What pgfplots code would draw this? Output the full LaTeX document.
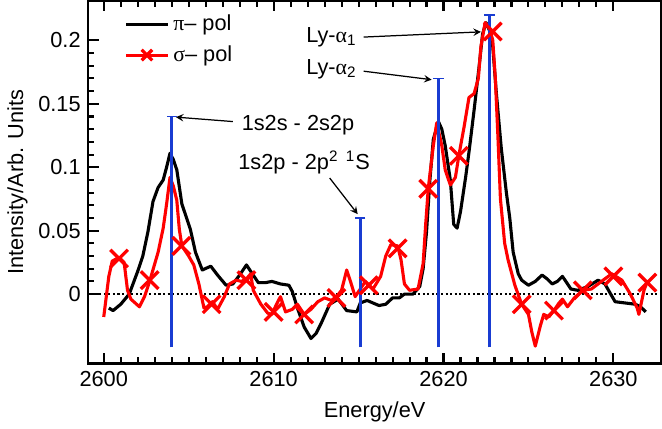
\documentclass[border=0pt]{standalone}
\usepackage{fontspec}
\setmainfont{Liberation Sans}
\newfontfamily\grk{Liberation Serif}
\usepackage{pgfplots}
\pgfplotsset{compat=1.18}
\definecolor{lblue}{RGB}{25,60,210}
\begin{document}
\fontsize{10.5}{12.6}\selectfont
\begin{tikzpicture}
\begin{axis}[
  scale only axis, width=276.5pt, height=175pt,
  xmin=2599.09, xmax=2632.8, ymin=-0.0547, ymax=0.231,
  axis on top, clip=false,
  xtick={2600,2610,2620,2630}, minor x tick num=9,
  ytick={0,0.05,0.1,0.15,0.2}, yticklabels={0,0.05,0.1,0.15,0.2}, minor y tick num=4,
  xtick pos=both, ytick pos=left, tick align=inside,
  major tick length=5pt, minor tick length=3pt,
  tick style={line width=1pt, black},
  axis line style={line width=1pt},
  /pgf/number format/assume math mode=true,
  /pgf/number format/set thousands separator={},
  tick label style={font=\fontsize{10.5}{12.6}\selectfont},
  label style={font=\fontsize{10.5}{12.6}\selectfont},
  xlabel={Energy/eV}, ylabel={Intensity/Arb. Units},
  ylabel style={yshift=-2pt},
  legend style={draw=none, fill=none, at={(axis description cs:0.052,0.985)}, anchor=north west, font=\fontsize{10.5}{12.6}\selectfont, row sep=1.5pt},
  legend cell align=left,
  legend image code/.code={\draw[mark repeat=2,mark phase=2,#1] plot coordinates {(0pt,0pt) (10pt,0pt) (20pt,0pt)};},
]
\addlegendimage{black, line width=1.5pt}
\addlegendentry{{\grk π}– pol}
\addlegendimage{red, line width=1.5pt, mark=x, mark size=3.6pt, mark options={line width=1.6pt}}
\addlegendentry{{\grk σ}– pol}

\addplot[forget plot, black, line width=1.1pt, dash pattern=on 1pt off 1.2pt] coordinates {(2599.2,0) (2632.7,0)};

\addplot[forget plot, black, line width=1.5pt, line join=round] coordinates {
(2600.3,-0.011) (2600.55,-0.013) (2601.0,-0.008) (2601.5,0.0) (2602.0,0.018) (2602.3,0.030)
(2602.6,0.049) (2602.9,0.073) (2603.2,0.084) (2603.5,0.090) (2603.7,0.100) (2603.9,0.111)
(2604.1,0.106) (2604.3,0.098) (2604.6,0.071) (2605.1,0.051) (2605.4,0.033) (2605.8,0.019)
(2606.3,0.022) (2606.7,0.015) (2607.2,0.007) (2607.6,0.008) (2608.0,0.015) (2608.4,0.023)
(2608.7,0.017) (2609.1,0.009) (2609.5,0.009) (2609.9,0.010) (2610.4,0.008) (2610.9,0.007)
(2611.1,0.002) (2611.4,-0.011) (2611.8,-0.026) (2612.2,-0.035) (2612.5,-0.031) (2612.8,-0.023)
(2613.3,-0.008) (2613.8,-0.004) (2614.3,-0.013) (2614.9,-0.014) (2615.1,-0.007) (2615.5,-0.005)
(2616.2,-0.009) (2616.6,-0.008) (2617.0,-0.003) (2617.4,-0.003) (2617.7,0.0) (2618.2,0.0)
(2618.6,0.006) (2618.8,0.020) (2619.0,0.049) (2619.2,0.090) (2619.4,0.122) (2619.7,0.136)
(2619.9,0.130) (2620.1,0.117) (2620.4,0.090) (2620.6,0.055) (2620.8,0.052) (2621.0,0.065)
(2621.3,0.092) (2621.5,0.112) (2621.8,0.145) (2622.1,0.180) (2622.3,0.205) (2622.5,0.214)
(2622.7,0.208) (2622.9,0.195) (2623.1,0.160) (2623.4,0.115) (2623.7,0.080) (2623.9,0.060)
(2624.1,0.033) (2624.4,0.016) (2624.6,0.011) (2625.0,0.007) (2625.4,0.010) (2625.8,0.015)
(2626.1,0.012) (2626.4,0.008) (2626.7,0.010) (2627.0,0.014) (2627.5,0.004) (2627.9,0.003)
(2628.5,0.006) (2629.1,0.011) (2629.5,0.008) (2630.1,-0.006) (2630.7,-0.007) (2631.3,-0.008)
(2631.6,-0.010) (2631.9,-0.014)
};

\addplot[forget plot, red, line width=1.5pt, line join=round] coordinates {
(2600.0,-0.018) (2600.3,0.014) (2600.5,0.026) (2600.9,0.029) (2601.2,0.025) (2601.4,0.003)
(2601.6,-0.004) (2602.1,-0.010) (2602.4,-0.002) (2602.7,0.010) (2603.2,0.033) (2603.5,0.052)
(2603.7,0.071) (2603.9,0.092) (2604.1,0.085) (2604.3,0.074) (2604.45,0.051) (2604.6,0.038)
(2605.0,0.030) (2605.3,0.023) (2605.6,0.008) (2605.9,-0.011) (2606.1,-0.010) (2606.4,-0.006)
(2606.7,-0.012) (2607.1,-0.002) (2607.4,0.008) (2607.8,0.011) (2608.1,0.010) (2608.4,0.012)
(2608.65,0.016) (2608.8,0.003) (2609.25,-0.008) (2609.65,-0.015) (2609.9,-0.016) (2610.1,-0.010)
(2610.4,-0.002) (2610.7,-0.014) (2611.1,-0.012) (2611.4,-0.008) (2611.8,-0.016) (2612.2,-0.012)
(2612.6,-0.006) (2613.0,-0.003) (2613.4,-0.005) (2613.7,-0.002) (2614.0,0.003) (2614.3,0.019)
(2614.5,0.011) (2614.8,-0.002) (2615.1,0.004) (2615.4,0.010) (2615.85,0.004) (2616.3,0.014)
(2616.6,0.030) (2616.9,0.039) (2617.3,0.038) (2617.5,0.027) (2617.7,0.008) (2618.0,0.003)
(2618.5,0.004) (2618.8,0.024) (2618.95,0.055) (2619.1,0.083) (2619.4,0.117) (2619.6,0.135)
(2619.9,0.117) (2620.1,0.098) (2620.4,0.086) (2620.7,0.092) (2620.9,0.109) (2621.2,0.131)
(2621.5,0.155) (2621.8,0.158) (2622.05,0.170) (2622.2,0.195) (2622.45,0.214) (2622.7,0.210)
(2622.9,0.200) (2623.05,0.170) (2623.2,0.125) (2623.35,0.075) (2623.6,0.040) (2623.8,0.027)
(2624.2,0.007) (2624.6,-0.008) (2625.0,-0.016) (2625.2,-0.030) (2625.4,-0.041) (2625.7,-0.025)
(2625.9,-0.016) (2626.2,-0.018) (2626.5,-0.013) (2626.8,-0.007) (2627.0,-0.004) (2627.3,-0.010)
(2627.7,-0.003) (2628.2,0.003) (2628.7,0.004) (2629.1,0.008) (2629.5,0.012) (2629.9,0.016)
(2630.5,0.011) (2631.0,0.0) (2631.4,-0.011) (2631.5,-0.016) (2631.8,0.003) (2632.0,0.010)
};

\addplot[forget plot, only marks, red, mark=x, mark size=6pt, mark options={line width=1.6pt}] coordinates {
(2600.9,0.028) (2602.7,0.011) (2604.57,0.038) (2606.35,-0.008) (2608.4,0.011) (2610.0,-0.014)
(2611.8,-0.016) (2613.7,-0.003) (2615.6,0.007) (2617.3,0.036) (2619.1,0.083) (2620.9,0.109)
(2622.9,0.207) (2624.6,-0.008) (2626.5,-0.013) (2628.2,0.003) (2630.0,0.014) (2632.0,0.009)
};

\addplot[forget plot, lblue, line width=1.5pt] coordinates {(2604.0,-0.042) (2604.0,0.14)};
\addplot[forget plot, lblue, line width=1.5pt] coordinates {(2615.1,-0.042) (2615.1,0.06)};
\addplot[forget plot, lblue, line width=1.5pt] coordinates {(2619.7,-0.042) (2619.7,0.17)};
\addplot[forget plot, lblue, line width=1.5pt] coordinates {(2622.7,-0.042) (2622.7,0.22)};
\addplot[forget plot, only marks, lblue, mark=-, mark size=2.5pt, mark options={line width=0.6pt}] coordinates {(2604.0,0.14) (2615.1,0.06) (2619.7,0.17) (2622.7,0.22)};

\node[anchor=west, inner sep=0pt] at (axis cs:2611.9,0.2026) {Ly-{\grk α}\textsubscript{1}};
\node[anchor=west, inner sep=0pt] at (axis cs:2611.9,0.1775) {Ly-{\grk α}\textsubscript{2}};
\node[anchor=west, inner sep=0pt] at (axis cs:2608.1,0.133) {1s2s - 2s2p};
\node[anchor=west, inner sep=0pt] at (axis cs:2607.9,0.104) {1s2p - 2p\textsuperscript{2}\,\,\textsuperscript{1}S};
\draw[-stealth, line width=0.6pt] (axis cs:2615.3,0.2026) -- (axis cs:2622.2,0.2067);
\draw[-stealth, line width=0.6pt] (axis cs:2615.3,0.1757) -- (axis cs:2619.3,0.169);
\draw[-stealth, line width=0.6pt] (axis cs:2607.6,0.136) -- (axis cs:2604.25,0.1395);
\draw[-stealth, line width=0.6pt] (axis cs:2613.3,0.0915) -- (axis cs:2614.95,0.063);
\end{axis}
\end{tikzpicture}
\end{document}
